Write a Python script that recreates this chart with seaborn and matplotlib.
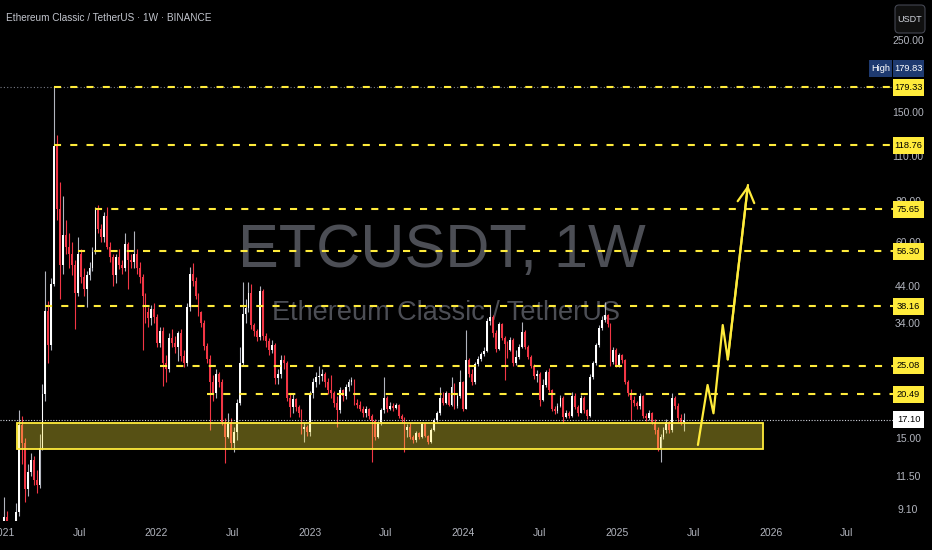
import numpy as np
import pandas as pd
import matplotlib
matplotlib.use("Agg")
import matplotlib.pyplot as plt
import matplotlib.dates as mdates
from matplotlib.patches import Rectangle, FancyBboxPatch
from matplotlib.ticker import NullLocator
from matplotlib.transforms import IdentityTransform
import seaborn as sns

# ETCUSDT weekly candles (Binance)
week_start = "2021-01-04"
first_open = 7.8
close_px = [
    8.6, 8.3, 7.6, 8.0, 8.9, 16.5, 14.5, 10.5, 11.8, 12.9, 11.2, 10.8, 14.0, 20.5, 37.0, 29.0,
    44.5, 118.0, 76.0, 51.0, 63.0, 58.0, 55.0, 51.0, 42.0, 55.0, 47.0, 43.0, 47.5, 50.0, 56.0, 75.0,
    66.0, 62.0, 72.0, 58.0, 54.0, 47.5, 54.0, 51.0, 50.0, 59.0, 53.0, 52.0, 55.0, 50.0, 47.0, 41.0,
    36.5, 35.0, 37.5, 35.3, 29.5, 32.0, 25.5, 24.5, 30.5, 29.5,
    28.5, 31.5, 26.8, 25.5, 38.0, 48.0, 45.5, 41.0, 36.5, 34.0, 28.8, 26.3, 22.3, 20.6, 23.7, 22.3,
    16.8, 15.2, 16.8, 14.5, 15.7, 19.3, 25.5, 36.0, 37.8, 42.0, 33.3, 32.0, 30.8, 42.5, 31.0, 29.8,
    28.0, 29.0, 23.0, 23.7, 26.1, 25.5, 20.0, 18.7, 19.8, 18.7, 17.9, 16.0, 16.3, 15.7, 20.6, 22.3,
    23.1, 23.3, 23.7, 22.3, 21.1, 20.7, 19.3, 18.3, 21.1,
    20.3, 21.6, 22.3, 22.6, 19.3, 19.0, 18.5, 17.9, 18.4, 17.6, 17.0, 15.2, 16.8, 18.3, 20.0, 18.5,
    18.9, 18.6, 19.0, 17.6, 17.2, 15.9, 16.3, 15.1, 14.8, 15.6, 15.1, 16.6, 15.3, 14.6, 15.9, 17.1,
    17.9, 19.9, 19.3, 20.6, 19.0, 21.6, 18.8, 20.3, 22.3, 18.5, 26.1, 23.7, 22.3, 25.3, 26.3, 27.2,
    27.9, 34.3, 35.4, 31.6, 28.2, 33.6, 30.5, 29.2, 28.0,
    30.1, 25.5, 26.6, 28.7, 31.9, 28.7, 26.6, 25.0, 23.3, 23.7, 19.7, 21.8, 23.9, 21.1, 18.5, 18.2,
    18.9, 20.0, 17.5, 17.9, 17.6, 20.3, 18.7, 18.0, 20.0, 18.3, 17.6, 23.1, 25.5, 29.0, 32.6, 34.6,
    35.8, 33.6, 25.8, 28.0, 25.2, 27.0, 26.1, 22.3, 20.6, 19.7, 19.2, 18.8, 20.3, 17.6, 17.3, 17.9,
    16.9, 15.9, 13.9, 15.2, 15.9, 16.8, 15.9, 19.9, 18.8, 17.3, 16.8, 17.1,
]
high_px = [
    9.9, 9.0, 8.3, 8.2, 9.5, 18.3, 17.6, 15.0, 12.5, 13.5, 13.2, 12.0, 15.5, 22.0, 49.0, 39.5,
    46.5, 179.83, 128.0, 92.0, 83.0, 70.0, 64.0, 60.0, 53.0, 62.0, 57.0, 50.0, 49.0, 52.0, 58.0, 77.0,
    78.0, 68.0, 74.0, 77.0, 60.0, 55.0, 55.0, 57.0, 53.0, 64.0, 60.0, 55.0, 65.0, 57.0, 52.0, 48.0,
    42.0, 38.0, 38.5, 39.0, 36.0, 33.0, 33.0, 27.0, 31.5, 32.5,
    31.0, 32.0, 32.5, 28.0, 39.0, 50.3, 51.7, 47.0, 42.0, 37.0, 34.5, 29.5, 27.0, 23.5, 24.5, 24.0,
    22.8, 17.3, 18.0, 17.3, 16.2, 19.8, 28.7, 45.3, 40.0, 45.3, 44.5, 34.0, 32.5, 44.0, 43.0, 31.5,
    30.5, 30.0, 29.5, 24.5, 27.0, 27.0, 26.0, 20.5, 20.5, 20.0, 19.0, 18.5, 16.8, 16.5, 21.0, 23.0,
    24.0, 25.0, 24.5, 24.0, 23.0, 23.5, 21.0, 20.2, 21.5,
    21.3, 22.0, 22.8, 23.2, 22.8, 19.8, 19.6, 18.9, 18.8, 18.6, 17.8, 17.2, 17.0, 18.6, 23.1, 20.3,
    19.4, 19.2, 19.3, 19.1, 17.8, 17.4, 16.6, 16.8, 15.4, 15.8, 15.7, 16.9, 16.7, 15.4, 16.1, 17.3,
    18.2, 21.6, 20.8, 21.0, 20.7, 23.1, 22.2, 20.6, 24.3, 22.5, 32.3, 26.5, 24.5, 25.8, 26.8, 27.6,
    28.5, 35.0, 38.5, 35.8, 32.2, 34.2, 34.0, 31.0, 29.8,
    30.8, 30.5, 28.0, 29.2, 34.2, 32.2, 29.0, 27.0, 25.3, 24.3, 24.0, 22.8, 24.3, 24.6, 21.3, 18.9,
    19.3, 20.4, 20.3, 18.3, 18.2, 20.8, 20.6, 19.0, 20.4, 20.2, 18.5, 23.7, 26.0, 29.5, 33.3, 35.5,
    39.3, 36.0, 34.0, 28.6, 28.4, 27.5, 27.3, 26.3, 22.6, 21.2, 20.3, 19.6, 20.7, 20.4, 18.0, 18.3,
    18.1, 17.2, 16.3, 15.5, 16.3, 17.2, 17.0, 20.6, 20.2, 19.2, 17.8, 18.0,
]
low_px = [
    7.5, 8.0, 7.2, 7.4, 7.9, 8.7, 12.5, 9.6, 10.0, 11.5, 10.8, 10.2, 10.6, 13.8, 19.5, 25.5,
    28.0, 44.0, 70.0, 40.0, 48.0, 55.0, 50.0, 47.5, 32.5, 41.0, 45.0, 41.0, 38.0, 46.0, 49.0, 55.0,
    64.0, 60.0, 60.0, 57.0, 52.0, 44.0, 45.0, 49.5, 48.0, 49.0, 43.0, 50.0, 50.0, 48.0, 45.0, 28.0,
    34.0, 33.0, 33.5, 34.0, 28.5, 28.5, 21.7, 22.3, 24.0, 28.5,
    27.5, 26.0, 26.0, 24.8, 25.0, 37.0, 44.0, 40.0, 35.5, 33.0, 28.0, 25.5, 15.9, 19.5, 20.0, 21.5,
    16.5, 12.6, 15.0, 14.0, 13.6, 14.8, 19.0, 25.0, 34.0, 36.5, 32.5, 31.0, 29.8, 30.0, 30.0, 28.5,
    27.0, 27.5, 22.0, 22.0, 23.0, 24.5, 19.5, 17.5, 18.0, 18.2, 17.5, 15.5, 14.6, 15.3, 15.3, 20.0,
    21.5, 22.0, 22.5, 21.5, 20.5, 20.0, 18.7, 16.3, 18.0,
    19.6, 19.8, 21.0, 21.8, 19.0, 18.6, 18.2, 17.5, 17.5, 17.2, 12.7, 14.8, 15.0, 16.5, 18.0, 18.1,
    18.3, 18.2, 18.4, 17.3, 16.8, 13.6, 15.1, 14.9, 14.5, 14.6, 14.9, 15.0, 15.1, 14.4, 14.5, 15.8,
    16.9, 17.7, 19.0, 19.1, 18.8, 18.9, 18.5, 18.6, 20.0, 18.2, 18.4, 23.2, 21.8, 22.0, 25.0, 26.0,
    26.8, 27.6, 33.5, 30.8, 27.6, 28.0, 30.0, 22.6, 26.5,
    27.8, 25.0, 25.2, 26.2, 28.3, 28.2, 26.2, 24.6, 22.8, 22.3, 18.8, 19.5, 21.5, 20.8, 18.2, 17.8,
    18.0, 18.7, 16.7, 17.3, 17.3, 17.4, 18.4, 17.6, 17.9, 18.0, 17.2, 17.4, 22.8, 25.2, 28.6, 32.2,
    34.1, 33.0, 25.0, 25.3, 24.9, 24.8, 25.5, 22.0, 20.2, 17.1, 18.8, 18.4, 18.5, 17.3, 17.0, 17.1,
    16.6, 15.5, 13.7, 12.7, 14.9, 15.6, 15.6, 15.7, 18.4, 16.9, 16.5, 15.8,
]

# horizontal levels drawn on the chart and the week they start from
level_prices = [179.33, 118.76, 75.65, 56.30, 38.16, 25.08, 20.49]
level_from = ["2021-05-03", "2021-05-03", "2021-08-09", "2021-06-28",
              "2021-04-12", "2022-01-10", "2022-05-02"]

# support zone
zone_low, zone_high = 13.96, 16.78
zone_from, zone_to = "2021-02-03", "2025-12-14"

# projected path (hand drawn arrow)
arrow_dates = ["2025-07-12", "2025-08-04", "2025-08-18", "2025-09-09", "2025-09-21", "2025-11-08"]
arrow_prices = [14.32, 21.87, 17.91, 33.4, 26.2, 89.8]

last_price = 17.10
all_time_high = 179.83

price_ticks = [250, 150, 110, 80, 60, 44, 34, 26, 15, 11.5, 9.1]
date_ticks = ["2021-01-01", "2021-07-01", "2022-01-01", "2022-07-01", "2023-01-01", "2023-07-01",
              "2024-01-01", "2024-07-01", "2025-01-01", "2025-07-01", "2026-01-01", "2026-07-01"]
date_labels = ["2021", "Jul", "2022", "Jul", "2023", "Jul", "2024", "Jul", "2025", "Jul", "2026", "Jul"]

RED = "#f23645"
WICK_UP = "#b2b5be"
YELLOW = "#ffeb3b"
TXT = "#b2b5be"

sns.set_theme(style="dark", rc={"axes.facecolor": "black", "figure.facecolor": "black"})
plt.rcParams['font.family'] = ['Liberation Sans', 'DejaVu Sans']

W, H = 932, 550
fig = plt.figure(figsize=(W / 100, H / 100), dpi=100, facecolor="black")
ax = fig.add_axes([0, 29 / H, 893 / W, 521 / H])
ax.set_facecolor("black")
ax.set_yscale("log")
ax.set_ylim(8.37, 331.6)
ax.set_xlim(mdates.date2num(pd.Timestamp("2020-12-25")), mdates.date2num(pd.Timestamp("2026-10-19")))
xmax = ax.get_xlim()[1]

# candles
t = mdates.date2num(pd.date_range(week_start, periods=len(close_px), freq="7D"))
c = np.array(close_px)
o = np.array([first_open] + close_px[:-1])
hi = np.array(high_px)
lo = np.array(low_px)
up = c >= o
bot = np.minimum(o, c)
top = np.maximum(np.maximum(o, c), bot * 1.008)

ax.vlines(t[up], lo[up], hi[up], color=WICK_UP, lw=0.8, zorder=3)
ax.vlines(t[~up], lo[~up], hi[~up], color=RED, lw=0.8, zorder=3)
ax.bar(t[up], (top - bot)[up], bottom=bot[up], width=4.4, color="white", lw=0, zorder=4)
ax.bar(t[~up], (top - bot)[~up], bottom=bot[~up], width=4.4, color=RED, lw=0, zorder=4)

# watermark
ax.text(442 / W, 1 - 267 / H, "ETCUSDT, 1W", transform=fig.transFigure, ha="center",
        va="baseline", fontsize=44, color="#4c4e55", zorder=1)
ax.text(446 / W, 1 - 320 / H, "Ethereum Classic / TetherUS", transform=fig.transFigure,
        ha="center", va="baseline", fontsize=19.5, color="#4c4e55", zorder=1)

# zone
z0 = mdates.date2num(pd.Timestamp(zone_from))
z1 = mdates.date2num(pd.Timestamp(zone_to))
ax.add_patch(Rectangle((z0, zone_low), z1 - z0, zone_high - zone_low,
                       facecolor=(1, 0.92, 0.23, 0.34), edgecolor=YELLOW, lw=1.3, zorder=5))

# levels
ax.axhline(all_time_high, color="#787b86", lw=0.8, ls=(0, (1, 2)), zorder=2)
ax.axhline(last_price, color="#d1d4dc", lw=0.8, ls=(0, (1, 1.5)), zorder=6)
for p, d in zip(level_prices, level_from):
    ax.hlines(p, mdates.date2num(pd.Timestamp(d)), xmax, colors=YELLOW,
              linestyles=(0, (3.4, 4.4)), lw=1.5, zorder=6)

# projection arrow
at = mdates.date2num(pd.to_datetime(arrow_dates))
sns.lineplot(x=at, y=arrow_prices, sort=False, estimator=None, color=YELLOW, lw=1.6,
             ax=ax, zorder=7)
ax.annotate("", xy=(at[-1], arrow_prices[-1]), xytext=(at[-2], arrow_prices[-2]),
            arrowprops=dict(arrowstyle="->,head_length=0.9,head_width=0.5", color=YELLOW,
                            lw=1.6, shrinkA=0, shrinkB=0), zorder=7)

# axes
ax.yaxis.tick_right()
ax.set_yticks(price_ticks)
ax.set_yticklabels([f"{v:.2f}" for v in price_ticks])
ax.yaxis.set_minor_locator(NullLocator())
ax.tick_params(axis="y", length=0, pad=10.8, labelsize=7.5, labelcolor=TXT)
for lab in ax.get_yticklabels():
    lab.set_horizontalalignment("center")
ax.set_xticks(mdates.date2num(pd.to_datetime(date_ticks)))
ax.set_xticklabels(date_labels)
ax.xaxis.set_minor_locator(NullLocator())
ax.tick_params(axis="x", length=0, pad=5, labelsize=7.5, labelcolor=TXT)
ax.grid(False)
for s in ax.spines.values():
    s.set_visible(False)

# price scale labels: fixed-size boxes in pixel space
px = IdentityTransform()


def price_label(y, text, fc, tc, x0=893, w=31):
    yp = ax.transData.transform((xmax, y))[1]
    ax.add_patch(Rectangle((x0, yp - 8.5), w, 17, transform=px, facecolor=fc,
                           edgecolor="none", clip_on=False, zorder=19))
    ax.text(x0 + w / 2, yp, text, transform=px, ha="center", va="center", fontsize=6.7,
            color=tc, clip_on=False, zorder=20)


for p in level_prices:
    price_label(p, f"{p:.2f}", YELLOW, "black")
price_label(last_price, f"{last_price:.2f}", "white", "black")
price_label(204, f"{all_time_high:.2f}", "#1e3a70", "white")
price_label(204, "High", "#1e3a70", "white", x0=869, w=23)

ax.text(6 / W, 1 - 18 / H, "Ethereum Classic / TetherUS \u00b7 1W \u00b7 BINANCE",
        transform=fig.transFigure, ha="left", va="center", fontsize=7.2, color="#c3c6ce", zorder=20)
ax.add_patch(FancyBboxPatch((895, H - 33), 30, 28, boxstyle="round,pad=0,rounding_size=4",
                            transform=px, facecolor="#101010", edgecolor="#434651", lw=0.8,
                            clip_on=False, zorder=19))
ax.text(910, H - 19, "USDT", transform=px, ha="center", va="center",
        fontsize=6.5, color="#d1d4dc", zorder=20)

fig.savefig("out.png", dpi=100, facecolor="black")
